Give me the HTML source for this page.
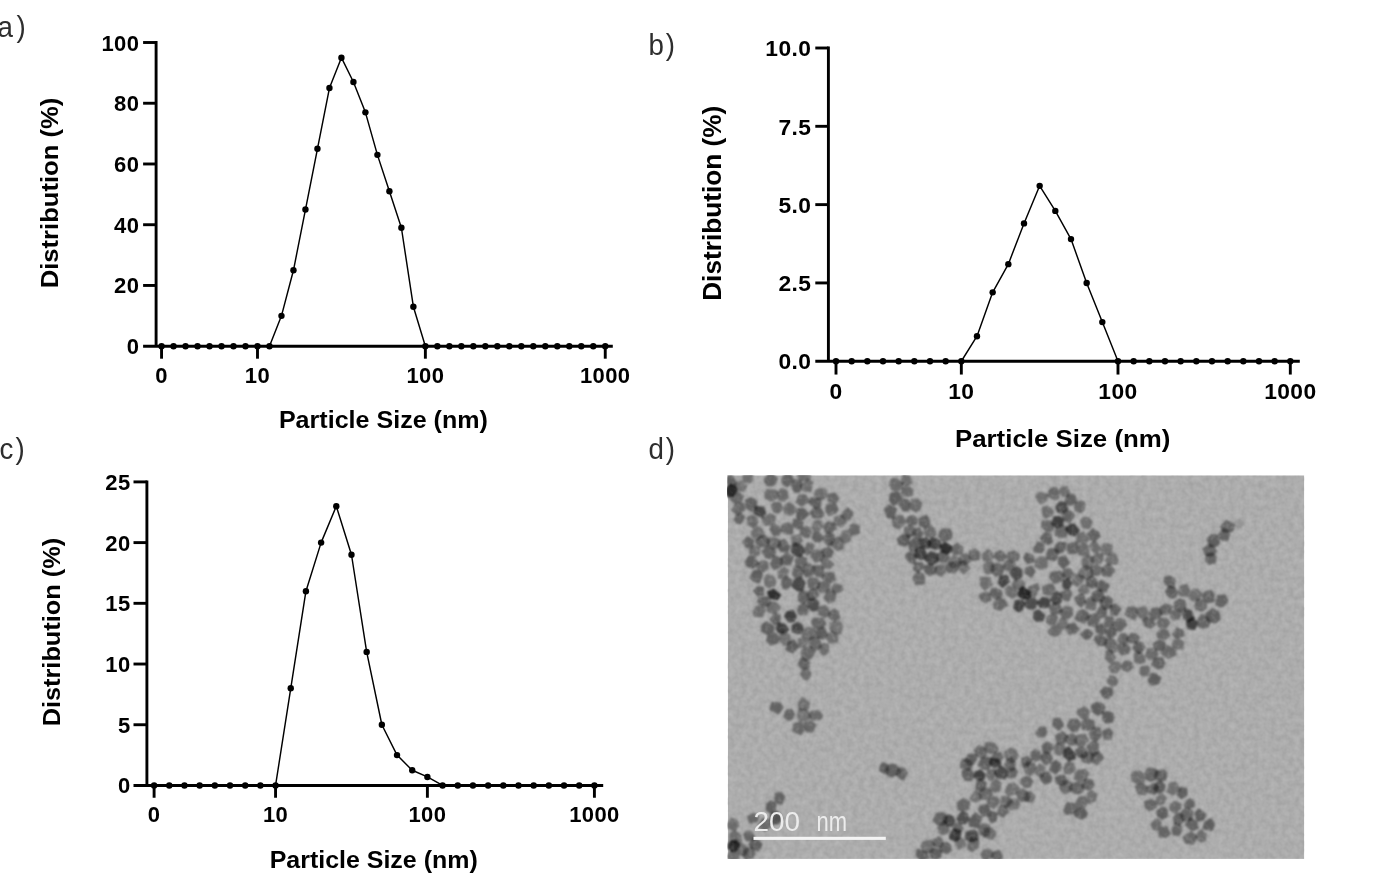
<!DOCTYPE html>
<html><head><meta charset="utf-8"><title>Figure</title>
<style>html,body{margin:0;padding:0;background:#fff}body{width:1385px;height:896px;overflow:hidden}svg{display:block;will-change:transform}</style>
</head><body>
<svg width="1385" height="896" viewBox="0 0 1385 896">
<rect width="1385" height="896" fill="#fff"/>
<path d="M156.10 41.05V346.20" stroke="#000" stroke-width="2.9" fill="none"/>
<path d="M143.10 346.20H612.80" stroke="#000" stroke-width="2.9" fill="none"/>
<text x="139.30" y="354.20" text-anchor="end" letter-spacing="0.4" font-family="Liberation Sans, sans-serif" font-weight="bold" font-size="22">0</text>
<path d="M143.10 285.46H156.10" stroke="#000" stroke-width="2.9"/>
<text x="139.30" y="293.46" text-anchor="end" letter-spacing="0.4" font-family="Liberation Sans, sans-serif" font-weight="bold" font-size="22">20</text>
<path d="M143.10 224.72H156.10" stroke="#000" stroke-width="2.9"/>
<text x="139.30" y="232.72" text-anchor="end" letter-spacing="0.4" font-family="Liberation Sans, sans-serif" font-weight="bold" font-size="22">40</text>
<path d="M143.10 163.98H156.10" stroke="#000" stroke-width="2.9"/>
<text x="139.30" y="171.98" text-anchor="end" letter-spacing="0.4" font-family="Liberation Sans, sans-serif" font-weight="bold" font-size="22">60</text>
<path d="M143.10 103.24H156.10" stroke="#000" stroke-width="2.9"/>
<text x="139.30" y="111.24" text-anchor="end" letter-spacing="0.4" font-family="Liberation Sans, sans-serif" font-weight="bold" font-size="22">80</text>
<path d="M143.10 42.50H156.10" stroke="#000" stroke-width="2.9"/>
<text x="139.30" y="50.50" text-anchor="end" letter-spacing="0.4" font-family="Liberation Sans, sans-serif" font-weight="bold" font-size="22">100</text>
<path d="M161.55 346.20V358.70" stroke="#000" stroke-width="2.9"/>
<text x="161.55" y="382.60" text-anchor="middle" letter-spacing="0.4" font-family="Liberation Sans, sans-serif" font-weight="bold" font-size="22">0</text>
<path d="M257.49 346.20V358.70" stroke="#000" stroke-width="2.9"/>
<text x="257.49" y="382.60" text-anchor="middle" letter-spacing="0.4" font-family="Liberation Sans, sans-serif" font-weight="bold" font-size="22">10</text>
<path d="M425.37 346.20V358.70" stroke="#000" stroke-width="2.9"/>
<text x="425.37" y="382.60" text-anchor="middle" letter-spacing="0.4" font-family="Liberation Sans, sans-serif" font-weight="bold" font-size="22">100</text>
<path d="M605.25 346.20V358.70" stroke="#000" stroke-width="2.9"/>
<text x="605.25" y="382.60" text-anchor="middle" letter-spacing="0.4" font-family="Liberation Sans, sans-serif" font-weight="bold" font-size="22">1000</text>
<text x="383.40" y="428.40" text-anchor="middle" textLength="209" lengthAdjust="spacingAndGlyphs" font-family="Liberation Sans, sans-serif" font-weight="bold" font-size="23.5">Particle Size (nm)</text>
<text transform="translate(57.90 193.00) rotate(-90)" text-anchor="middle" textLength="190.5" lengthAdjust="spacingAndGlyphs" font-family="Liberation Sans, sans-serif" font-weight="bold" font-size="24">Distribution (%)</text>
<polyline fill="none" stroke="#000" stroke-width="1.45" stroke-linejoin="round" points="161.55,346.20 173.54,346.20 185.53,346.20 197.53,346.20 209.52,346.20 221.51,346.20 233.50,346.20 245.49,346.20 257.49,346.20 269.48,346.20 281.47,315.83 293.46,270.27 305.45,209.53 317.45,148.79 329.44,88.06 341.43,57.69 353.42,81.98 365.41,112.35 377.41,154.87 389.40,191.31 401.39,227.76 413.38,306.72 425.37,346.20 437.37,346.20 449.36,346.20 461.35,346.20 473.34,346.20 485.33,346.20 497.33,346.20 509.32,346.20 521.31,346.20 533.30,346.20 545.29,346.20 557.29,346.20 569.28,346.20 581.27,346.20 593.26,346.20 605.25,346.20"/>
<circle cx="161.55" cy="346.20" r="3.2"/>
<circle cx="173.54" cy="346.20" r="3.2"/>
<circle cx="185.53" cy="346.20" r="3.2"/>
<circle cx="197.53" cy="346.20" r="3.2"/>
<circle cx="209.52" cy="346.20" r="3.2"/>
<circle cx="221.51" cy="346.20" r="3.2"/>
<circle cx="233.50" cy="346.20" r="3.2"/>
<circle cx="245.49" cy="346.20" r="3.2"/>
<circle cx="257.49" cy="346.20" r="3.2"/>
<circle cx="269.48" cy="346.20" r="3.2"/>
<circle cx="281.47" cy="315.83" r="3.2"/>
<circle cx="293.46" cy="270.27" r="3.2"/>
<circle cx="305.45" cy="209.53" r="3.2"/>
<circle cx="317.45" cy="148.79" r="3.2"/>
<circle cx="329.44" cy="88.06" r="3.2"/>
<circle cx="341.43" cy="57.69" r="3.2"/>
<circle cx="353.42" cy="81.98" r="3.2"/>
<circle cx="365.41" cy="112.35" r="3.2"/>
<circle cx="377.41" cy="154.87" r="3.2"/>
<circle cx="389.40" cy="191.31" r="3.2"/>
<circle cx="401.39" cy="227.76" r="3.2"/>
<circle cx="413.38" cy="306.72" r="3.2"/>
<circle cx="425.37" cy="346.20" r="3.2"/>
<circle cx="437.37" cy="346.20" r="3.2"/>
<circle cx="449.36" cy="346.20" r="3.2"/>
<circle cx="461.35" cy="346.20" r="3.2"/>
<circle cx="473.34" cy="346.20" r="3.2"/>
<circle cx="485.33" cy="346.20" r="3.2"/>
<circle cx="497.33" cy="346.20" r="3.2"/>
<circle cx="509.32" cy="346.20" r="3.2"/>
<circle cx="521.31" cy="346.20" r="3.2"/>
<circle cx="533.30" cy="346.20" r="3.2"/>
<circle cx="545.29" cy="346.20" r="3.2"/>
<circle cx="557.29" cy="346.20" r="3.2"/>
<circle cx="569.28" cy="346.20" r="3.2"/>
<circle cx="581.27" cy="346.20" r="3.2"/>
<circle cx="593.26" cy="346.20" r="3.2"/>
<circle cx="605.25" cy="346.20" r="3.2"/>
<path d="M828.40 46.55V361.25" stroke="#000" stroke-width="2.9" fill="none"/>
<path d="M815.30 361.25H1299.80" stroke="#000" stroke-width="2.9" fill="none"/>
<text x="811.30" y="369.45" text-anchor="end" letter-spacing="0.4" font-family="Liberation Sans, sans-serif" font-weight="bold" font-size="22.8">0.0</text>
<path d="M815.30 282.94H828.40" stroke="#000" stroke-width="2.9"/>
<text x="811.30" y="291.14" text-anchor="end" letter-spacing="0.4" font-family="Liberation Sans, sans-serif" font-weight="bold" font-size="22.8">2.5</text>
<path d="M815.30 204.62H828.40" stroke="#000" stroke-width="2.9"/>
<text x="811.30" y="212.82" text-anchor="end" letter-spacing="0.4" font-family="Liberation Sans, sans-serif" font-weight="bold" font-size="22.8">5.0</text>
<path d="M815.30 126.31H828.40" stroke="#000" stroke-width="2.9"/>
<text x="811.30" y="134.51" text-anchor="end" letter-spacing="0.4" font-family="Liberation Sans, sans-serif" font-weight="bold" font-size="22.8">7.5</text>
<path d="M815.30 48.00H828.40" stroke="#000" stroke-width="2.9"/>
<text x="811.30" y="56.20" text-anchor="end" letter-spacing="0.4" font-family="Liberation Sans, sans-serif" font-weight="bold" font-size="22.8">10.0</text>
<path d="M836.00 361.25V374.55" stroke="#000" stroke-width="2.9"/>
<text x="836.00" y="399.30" text-anchor="middle" letter-spacing="0.4" font-family="Liberation Sans, sans-serif" font-weight="bold" font-size="22.8">0</text>
<path d="M961.33 361.25V374.55" stroke="#000" stroke-width="2.9"/>
<text x="961.33" y="399.30" text-anchor="middle" letter-spacing="0.4" font-family="Liberation Sans, sans-serif" font-weight="bold" font-size="22.8">10</text>
<path d="M1117.99 361.25V374.55" stroke="#000" stroke-width="2.9"/>
<text x="1117.99" y="399.30" text-anchor="middle" letter-spacing="0.4" font-family="Liberation Sans, sans-serif" font-weight="bold" font-size="22.8">100</text>
<path d="M1290.31 361.25V374.55" stroke="#000" stroke-width="2.9"/>
<text x="1290.31" y="399.30" text-anchor="middle" letter-spacing="0.4" font-family="Liberation Sans, sans-serif" font-weight="bold" font-size="22.8">1000</text>
<text x="1062.70" y="447.40" text-anchor="middle" textLength="215.5" lengthAdjust="spacingAndGlyphs" font-family="Liberation Sans, sans-serif" font-weight="bold" font-size="24.8">Particle Size (nm)</text>
<text transform="translate(720.60 203.30) rotate(-90)" text-anchor="middle" textLength="195" lengthAdjust="spacingAndGlyphs" font-family="Liberation Sans, sans-serif" font-weight="bold" font-size="25">Distribution (%)</text>
<polyline fill="none" stroke="#000" stroke-width="1.45" stroke-linejoin="round" points="836.00,361.25 851.67,361.25 867.33,361.25 883.00,361.25 898.66,361.25 914.33,361.25 930.00,361.25 945.66,361.25 961.33,361.25 976.99,336.19 992.66,292.33 1008.33,264.14 1023.99,223.42 1039.66,185.83 1055.32,210.89 1070.99,239.08 1086.66,282.94 1102.32,322.09 1117.99,361.25 1133.65,361.25 1149.32,361.25 1164.99,361.25 1180.65,361.25 1196.32,361.25 1211.98,361.25 1227.65,361.25 1243.32,361.25 1258.98,361.25 1274.65,361.25 1290.31,361.25"/>
<circle cx="836.00" cy="361.25" r="3.2"/>
<circle cx="851.67" cy="361.25" r="3.2"/>
<circle cx="867.33" cy="361.25" r="3.2"/>
<circle cx="883.00" cy="361.25" r="3.2"/>
<circle cx="898.66" cy="361.25" r="3.2"/>
<circle cx="914.33" cy="361.25" r="3.2"/>
<circle cx="930.00" cy="361.25" r="3.2"/>
<circle cx="945.66" cy="361.25" r="3.2"/>
<circle cx="961.33" cy="361.25" r="3.2"/>
<circle cx="976.99" cy="336.19" r="3.2"/>
<circle cx="992.66" cy="292.33" r="3.2"/>
<circle cx="1008.33" cy="264.14" r="3.2"/>
<circle cx="1023.99" cy="223.42" r="3.2"/>
<circle cx="1039.66" cy="185.83" r="3.2"/>
<circle cx="1055.32" cy="210.89" r="3.2"/>
<circle cx="1070.99" cy="239.08" r="3.2"/>
<circle cx="1086.66" cy="282.94" r="3.2"/>
<circle cx="1102.32" cy="322.09" r="3.2"/>
<circle cx="1117.99" cy="361.25" r="3.2"/>
<circle cx="1133.65" cy="361.25" r="3.2"/>
<circle cx="1149.32" cy="361.25" r="3.2"/>
<circle cx="1164.99" cy="361.25" r="3.2"/>
<circle cx="1180.65" cy="361.25" r="3.2"/>
<circle cx="1196.32" cy="361.25" r="3.2"/>
<circle cx="1211.98" cy="361.25" r="3.2"/>
<circle cx="1227.65" cy="361.25" r="3.2"/>
<circle cx="1243.32" cy="361.25" r="3.2"/>
<circle cx="1258.98" cy="361.25" r="3.2"/>
<circle cx="1274.65" cy="361.25" r="3.2"/>
<circle cx="1290.31" cy="361.25" r="3.2"/>
<path d="M146.90 480.45V785.45" stroke="#000" stroke-width="2.9" fill="none"/>
<path d="M133.50 785.45H603.20" stroke="#000" stroke-width="2.9" fill="none"/>
<text x="130.60" y="793.45" text-anchor="end" letter-spacing="0.4" font-family="Liberation Sans, sans-serif" font-weight="bold" font-size="22">0</text>
<path d="M133.50 724.74H146.90" stroke="#000" stroke-width="2.9"/>
<text x="130.60" y="732.74" text-anchor="end" letter-spacing="0.4" font-family="Liberation Sans, sans-serif" font-weight="bold" font-size="22">5</text>
<path d="M133.50 664.03H146.90" stroke="#000" stroke-width="2.9"/>
<text x="130.60" y="672.03" text-anchor="end" letter-spacing="0.4" font-family="Liberation Sans, sans-serif" font-weight="bold" font-size="22">10</text>
<path d="M133.50 603.32H146.90" stroke="#000" stroke-width="2.9"/>
<text x="130.60" y="611.32" text-anchor="end" letter-spacing="0.4" font-family="Liberation Sans, sans-serif" font-weight="bold" font-size="22">15</text>
<path d="M133.50 542.61H146.90" stroke="#000" stroke-width="2.9"/>
<text x="130.60" y="550.61" text-anchor="end" letter-spacing="0.4" font-family="Liberation Sans, sans-serif" font-weight="bold" font-size="22">20</text>
<path d="M133.50 481.90H146.90" stroke="#000" stroke-width="2.9"/>
<text x="130.60" y="489.90" text-anchor="end" letter-spacing="0.4" font-family="Liberation Sans, sans-serif" font-weight="bold" font-size="22">25</text>
<path d="M154.10 785.45V797.75" stroke="#000" stroke-width="2.9"/>
<text x="154.10" y="821.70" text-anchor="middle" letter-spacing="0.4" font-family="Liberation Sans, sans-serif" font-weight="bold" font-size="22">0</text>
<path d="M275.56 785.45V797.75" stroke="#000" stroke-width="2.9"/>
<text x="275.56" y="821.70" text-anchor="middle" letter-spacing="0.4" font-family="Liberation Sans, sans-serif" font-weight="bold" font-size="22">10</text>
<path d="M427.39 785.45V797.75" stroke="#000" stroke-width="2.9"/>
<text x="427.39" y="821.70" text-anchor="middle" letter-spacing="0.4" font-family="Liberation Sans, sans-serif" font-weight="bold" font-size="22">100</text>
<path d="M594.41 785.45V797.75" stroke="#000" stroke-width="2.9"/>
<text x="594.41" y="821.70" text-anchor="middle" letter-spacing="0.4" font-family="Liberation Sans, sans-serif" font-weight="bold" font-size="22">1000</text>
<text x="373.70" y="868.10" text-anchor="middle" textLength="208" lengthAdjust="spacingAndGlyphs" font-family="Liberation Sans, sans-serif" font-weight="bold" font-size="24.0">Particle Size (nm)</text>
<text transform="translate(60.00 632.10) rotate(-90)" text-anchor="middle" textLength="188.5" lengthAdjust="spacingAndGlyphs" font-family="Liberation Sans, sans-serif" font-weight="bold" font-size="24">Distribution (%)</text>
<polyline fill="none" stroke="#000" stroke-width="1.45" stroke-linejoin="round" points="154.10,785.45 169.28,785.45 184.47,785.45 199.65,785.45 214.83,785.45 230.01,785.45 245.20,785.45 260.38,785.45 275.56,785.45 290.75,688.31 305.93,591.18 321.11,542.61 336.30,506.18 351.48,554.75 366.66,651.89 381.85,724.74 397.03,755.10 412.21,770.27 427.39,776.95 442.58,785.45 457.76,785.45 472.94,785.45 488.13,785.45 503.31,785.45 518.49,785.45 533.67,785.45 548.86,785.45 564.04,785.45 579.22,785.45 594.41,785.45"/>
<circle cx="154.10" cy="785.45" r="3.2"/>
<circle cx="169.28" cy="785.45" r="3.2"/>
<circle cx="184.47" cy="785.45" r="3.2"/>
<circle cx="199.65" cy="785.45" r="3.2"/>
<circle cx="214.83" cy="785.45" r="3.2"/>
<circle cx="230.01" cy="785.45" r="3.2"/>
<circle cx="245.20" cy="785.45" r="3.2"/>
<circle cx="260.38" cy="785.45" r="3.2"/>
<circle cx="275.56" cy="785.45" r="3.2"/>
<circle cx="290.75" cy="688.31" r="3.2"/>
<circle cx="305.93" cy="591.18" r="3.2"/>
<circle cx="321.11" cy="542.61" r="3.2"/>
<circle cx="336.30" cy="506.18" r="3.2"/>
<circle cx="351.48" cy="554.75" r="3.2"/>
<circle cx="366.66" cy="651.89" r="3.2"/>
<circle cx="381.85" cy="724.74" r="3.2"/>
<circle cx="397.03" cy="755.10" r="3.2"/>
<circle cx="412.21" cy="770.27" r="3.2"/>
<circle cx="427.39" cy="776.95" r="3.2"/>
<circle cx="442.58" cy="785.45" r="3.2"/>
<circle cx="457.76" cy="785.45" r="3.2"/>
<circle cx="472.94" cy="785.45" r="3.2"/>
<circle cx="488.13" cy="785.45" r="3.2"/>
<circle cx="503.31" cy="785.45" r="3.2"/>
<circle cx="518.49" cy="785.45" r="3.2"/>
<circle cx="533.67" cy="785.45" r="3.2"/>
<circle cx="548.86" cy="785.45" r="3.2"/>
<circle cx="564.04" cy="785.45" r="3.2"/>
<circle cx="579.22" cy="785.45" r="3.2"/>
<circle cx="594.41" cy="785.45" r="3.2"/>
<text transform="translate(-2.4 36.8) scale(0.94 1)" font-family="Liberation Sans, sans-serif" font-size="29.5" fill="#2e2e2e">a<tspan dx="3.6">)</tspan></text>
<text transform="translate(648.5 54.6) scale(0.94 1)" font-family="Liberation Sans, sans-serif" font-size="29.5" fill="#2e2e2e">b<tspan dx="2.0">)</tspan></text>
<text transform="translate(-0.6 458.6) scale(0.94 1)" font-family="Liberation Sans, sans-serif" font-size="29.5" fill="#2e2e2e">c<tspan dx="2.4">)</tspan></text>
<text transform="translate(648.4 458.9) scale(0.94 1)" font-family="Liberation Sans, sans-serif" font-size="29.5" fill="#2e2e2e">d<tspan dx="2.0">)</tspan></text>
<defs>
<clipPath id="temclip"><rect x="727.8" y="475.3" width="576.5" height="383.6"/></clipPath>
<filter id="pblur" x="-5%" y="-5%" width="110%" height="110%"><feGaussianBlur stdDeviation="0.85"/></filter>
<filter id="tblur"><feGaussianBlur stdDeviation="0.55"/></filter>
<filter id="grain" x="0" y="0" width="100%" height="100%" color-interpolation-filters="sRGB"><feTurbulence type="fractalNoise" baseFrequency="0.17" numOctaves="2" seed="3" result="n"/><feColorMatrix in="n" type="matrix" values="0 0 0 0 1  0 0 0 0 1  0 0 0 0 1  0.30 0 0 0 -0.15" result="w"/><feColorMatrix in="n" type="matrix" values="0 0 0 0 0  0 0 0 0 0  0 0 0 0 0  -0.16 0 0 0 0.08" result="k"/><feMerge><feMergeNode in="w"/><feMergeNode in="k"/></feMerge></filter>
</defs>
<g clip-path="url(#temclip)">
<rect x="727.8" y="475.3" width="576.5" height="383.6" fill="#adadad"/>
<g filter="url(#pblur)" fill="#000" stroke="#000" stroke-width="2.2" stroke-linejoin="round">
<path d="M896.5 479.3L903.1 483.6L902.0 487.2L897.7 490.5L892.6 489.9L889.8 484.5L892.1 479.0Z" opacity="0.36"/>
<path d="M901.9 478.8L903.9 474.7L908.6 476.3L910.9 480.0L911.2 483.2L906.0 485.5L902.0 483.0Z" opacity="0.34"/>
<path d="M911.9 494.6L906.1 496.2L901.6 493.4L902.3 488.8L908.1 486.2L912.2 490.0Z" opacity="0.36"/>
<path d="M890.1 500.0L890.7 494.3L893.3 492.6L898.1 492.9L902.1 497.3L898.1 502.8L893.2 504.8Z" opacity="0.44"/>
<path d="M899.7 505.2L903.3 499.2L907.2 500.2L909.6 503.7L907.8 510.6L903.4 510.3Z" opacity="0.41"/>
<path d="M895.9 508.8L894.2 517.1L887.9 517.7L885.0 509.4L888.9 505.5Z" opacity="0.42"/>
<path d="M910.0 505.0L912.1 499.8L918.0 499.6L921.3 503.5L919.7 509.6L915.6 511.4L910.5 508.2Z" opacity="0.36"/>
<path d="M905.2 522.5L899.5 528.1L893.8 526.2L892.8 518.8L898.2 516.2L902.5 516.6Z" opacity="0.37"/>
<path d="M908.6 517.2L913.2 515.8L916.8 519.4L916.2 523.8L910.0 525.3L906.8 520.6Z" opacity="0.40"/>
<path d="M920.0 524.9L919.3 519.7L921.3 517.7L926.5 516.0L928.9 519.5L928.9 523.5L924.5 526.8Z" opacity="0.43"/>
<path d="M914.7 533.2L910.7 536.2L908.1 537.0L904.9 532.2L905.4 527.3L909.6 526.3L913.4 528.0Z" opacity="0.38"/>
<path d="M903.3 535.0L908.9 535.9L909.2 542.5L905.0 545.6L899.5 543.8L898.1 538.9Z" opacity="0.44"/>
<path d="M912.7 534.5L915.4 529.5L919.4 528.3L922.4 533.3L919.8 539.2L917.0 538.5Z" opacity="0.42"/>
<path d="M930.1 525.6L933.7 528.5L935.6 534.5L931.4 537.3L925.3 535.1L924.7 528.2Z" opacity="0.36"/>
<path d="M943.4 541.3L939.3 536.9L940.4 532.3L942.3 529.4L949.8 529.8L951.5 534.4L950.5 538.8Z" opacity="0.41"/>
<path d="M913.2 539.1L916.6 540.0L918.9 547.3L915.8 550.3L910.7 550.2L909.4 545.2Z" opacity="0.43"/>
<path d="M926.1 538.2L930.3 542.7L928.2 547.8L921.4 546.8L919.2 540.4Z" opacity="0.60"/>
<path d="M939.7 541.7L940.2 547.4L935.4 548.6L930.3 546.9L928.4 542.7L931.9 538.6L936.2 539.2Z" opacity="0.59"/>
<path d="M941.1 545.7L945.3 543.1L950.8 546.7L950.7 551.1L947.9 553.4L941.9 551.5Z" opacity="0.70"/>
<path d="M957.2 543.9L962.4 547.9L961.7 553.3L954.1 554.0L951.5 547.7Z" opacity="0.38"/>
<path d="M915.9 556.5L914.2 562.8L909.3 561.8L905.9 556.4L907.5 553.7L911.7 552.3Z" opacity="0.42"/>
<path d="M923.2 548.1L926.1 554.6L924.7 557.7L920.3 558.9L915.4 556.2L915.5 552.0L917.5 548.4Z" opacity="0.61"/>
<path d="M925.1 558.9L930.5 552.2L937.6 554.2L938.0 561.0L930.8 564.7Z" opacity="0.59"/>
<path d="M949.0 557.6L945.3 562.6L941.3 562.2L937.4 558.7L940.4 552.2L945.0 552.6Z" opacity="0.41"/>
<path d="M959.5 562.7L956.3 568.2L950.4 565.8L949.1 561.6L953.8 555.9L958.7 558.9Z" opacity="0.33"/>
<path d="M966.1 554.4L970.4 558.7L969.6 561.8L964.6 564.2L960.7 564.1L959.9 558.3L962.9 555.1Z" opacity="0.36"/>
<path d="M959.5 561.3L964.3 561.2L969.2 568.1L963.6 573.3L958.9 568.5Z" opacity="0.34"/>
<path d="M979.2 553.5L979.0 559.1L972.8 560.0L969.1 556.9L970.2 551.3L975.4 549.6Z" opacity="0.38"/>
<path d="M988.3 550.2L991.9 553.2L992.8 558.0L986.4 560.7L983.4 559.7L982.7 554.4Z" opacity="0.34"/>
<path d="M999.3 560.9L994.5 556.4L996.1 553.3L1000.7 550.9L1006.4 556.2L1003.4 560.3Z" opacity="0.39"/>
<path d="M1008.1 559.3L1008.4 553.1L1014.4 551.4L1018.9 555.0L1018.0 559.4L1013.1 561.1Z" opacity="0.38"/>
<path d="M917.8 571.4L913.7 569.5L915.4 563.1L922.0 563.0L923.9 567.4Z" opacity="0.40"/>
<path d="M925.5 566.1L931.8 564.6L935.9 568.1L934.0 573.5L929.7 574.8L925.1 571.8Z" opacity="0.43"/>
<path d="M941.0 575.7L935.9 572.5L936.6 566.1L943.9 565.4L945.9 571.0Z" opacity="0.36"/>
<path d="M955.1 562.4L958.3 567.0L955.0 572.3L948.6 572.1L946.1 566.4L948.2 563.8Z" opacity="0.39"/>
<path d="M924.0 575.3L923.8 583.3L915.8 583.9L913.4 577.4L918.8 571.6Z" opacity="0.38"/>
<path d="M988.5 573.8L984.3 571.6L984.5 563.9L990.2 561.1L993.2 564.1L994.0 569.5Z" opacity="0.34"/>
<path d="M991.5 571.7L992.0 565.5L997.8 563.8L1003.7 566.7L1001.7 573.9L996.5 576.0Z" opacity="0.40"/>
<path d="M803.4 669.7L806.0 668.5L810.2 672.7L810.3 674.7L807.4 679.4L804.2 678.4L800.8 674.2Z" opacity="0.35"/>
<path d="M782.5 707.3L778.3 713.1L770.4 709.2L772.2 702.8L779.8 703.6Z" opacity="0.41"/>
<path d="M784.2 716.4L786.5 710.8L791.4 709.6L794.1 714.9L791.1 719.2L788.7 720.0Z" opacity="0.40"/>
<path d="M799.4 708.9L798.8 703.5L802.0 698.1L804.7 699.6L808.9 702.4L808.0 707.9L802.7 710.0Z" opacity="0.35"/>
<path d="M806.2 709.6L810.3 716.8L807.2 719.7L800.3 720.7L797.8 715.7L799.6 709.5Z" opacity="0.33"/>
<path d="M812.2 719.7L809.1 716.1L811.6 711.5L818.8 711.4L821.9 715.7L820.4 718.9Z" opacity="0.36"/>
<path d="M812.4 731.3L806.7 731.2L804.3 722.9L809.7 721.5L815.3 724.7Z" opacity="0.38"/>
<path d="M793.2 730.7L794.5 724.0L800.6 722.3L804.7 728.8L800.6 734.1Z" opacity="0.38"/>
<path d="M880.2 770.6L880.7 765.4L883.4 763.2L887.5 765.4L887.9 772.8L884.6 773.0Z" opacity="0.42"/>
<path d="M891.7 776.5L888.6 775.7L886.0 770.1L889.7 764.9L894.9 764.9L899.9 771.5L898.1 773.9Z" opacity="0.42"/>
<path d="M903.3 779.7L900.0 777.9L896.9 774.4L899.0 768.3L903.7 768.8L906.7 773.0Z" opacity="0.40"/>
<path d="M777.9 803.0L775.2 800.0L776.0 793.5L781.5 793.4L784.0 797.0L781.6 803.6Z" opacity="0.41"/>
<path d="M775.4 803.6L775.0 809.8L770.6 813.0L766.6 809.6L767.5 804.3L770.7 801.3Z" opacity="0.44"/>
<path d="M748.0 816.7L753.9 813.7L758.0 815.9L756.9 821.0L750.4 822.7Z" opacity="0.39"/>
<path d="M772.1 823.6L770.6 819.3L771.2 814.2L776.8 812.0L780.3 815.4L781.4 819.2L777.7 823.2Z" opacity="0.53"/>
<path d="M770.6 825.6L764.5 830.6L758.4 826.2L763.0 818.9L768.0 820.0Z" opacity="0.39"/>
<path d="M728.5 827.8L728.3 824.3L731.5 818.8L736.6 820.7L738.2 825.6L734.7 830.3Z" opacity="0.36"/>
<path d="M754.1 837.1L752.8 839.7L746.4 840.2L744.2 834.6L745.9 832.1L751.4 831.9Z" opacity="0.40"/>
<path d="M730.2 841.1L730.5 833.5L735.2 831.5L740.3 835.7L740.6 842.6L734.8 843.3Z" opacity="0.36"/>
<path d="M758.1 840.9L761.5 844.6L758.6 850.5L753.8 849.4L749.5 844.6L753.9 838.7Z" opacity="0.44"/>
<path d="M732.2 851.5L728.7 847.8L729.0 844.2L731.9 841.2L736.2 841.1L738.9 844.7L736.4 850.2Z" opacity="0.73"/>
<path d="M744.6 855.2L740.3 854.5L737.6 848.9L739.0 844.8L741.6 844.4L746.7 847.2L747.8 851.0Z" opacity="0.34"/>
<path d="M743.3 855.0L744.9 849.9L751.5 847.5L754.4 853.6L752.4 857.4L746.2 859.4Z" opacity="0.39"/>
<path d="M738.2 859.2L734.3 862.3L730.0 860.1L728.1 856.2L731.8 850.1L737.7 853.1Z" opacity="0.36"/>
<path d="M1233.8 524.9L1232.5 531.1L1223.6 531.5L1220.9 526.8L1226.5 521.0Z" opacity="0.40"/>
<path d="M1223.6 529.3L1227.9 531.2L1229.0 534.5L1227.4 539.9L1222.5 539.6L1219.3 537.8L1219.4 534.2Z" opacity="0.40"/>
<path d="M1216.7 535.3L1219.2 542.8L1215.7 545.8L1210.4 546.6L1207.5 539.4L1210.7 535.5Z" opacity="0.44"/>
<path d="M1212.7 554.7L1208.5 556.4L1205.2 553.6L1203.5 548.6L1209.9 544.7L1212.7 546.3L1216.0 551.6Z" opacity="0.39"/>
<path d="M1206.1 560.3L1207.0 554.9L1212.0 553.4L1215.6 556.6L1214.9 562.3L1208.7 563.6Z" opacity="0.40"/>
<path d="M1139.4 771.6L1143.0 774.1L1143.6 781.5L1138.3 783.7L1133.0 781.3L1131.5 775.1L1133.9 771.9Z" opacity="0.35"/>
<path d="M1155.0 769.3L1157.4 772.4L1154.4 779.4L1150.4 781.1L1145.7 778.4L1145.7 772.5L1148.6 768.5Z" opacity="0.40"/>
<path d="M1156.1 778.5L1155.5 776.1L1156.5 771.6L1163.6 770.3L1166.6 774.1L1165.0 779.4L1160.9 780.6Z" opacity="0.43"/>
<path d="M1138.5 793.4L1135.9 786.4L1142.6 783.6L1147.2 788.4L1145.0 794.1Z" opacity="0.38"/>
<path d="M1148.0 792.0L1147.4 787.3L1154.6 783.7L1158.2 787.0L1155.2 793.6Z" opacity="0.42"/>
<path d="M1163.3 790.4L1159.0 792.9L1154.2 789.0L1157.3 782.3L1160.4 781.2L1164.8 786.0Z" opacity="0.44"/>
<path d="M1179.8 789.7L1172.9 794.4L1167.2 792.0L1170.0 783.7L1175.8 782.7Z" opacity="0.33"/>
<path d="M1186.2 789.0L1186.4 794.9L1181.2 798.1L1177.8 794.6L1180.7 787.8Z" opacity="0.43"/>
<path d="M1157.6 797.1L1161.6 794.3L1165.7 797.5L1163.4 803.7L1158.9 804.3L1156.4 801.8Z" opacity="0.34"/>
<path d="M1151.8 800.0L1156.3 803.3L1155.6 807.3L1149.2 810.2L1146.1 807.6L1145.1 801.8Z" opacity="0.40"/>
<path d="M1174.9 802.0L1180.4 804.3L1180.1 808.5L1175.2 812.3L1170.1 809.0L1170.9 804.9Z" opacity="0.37"/>
<path d="M1188.9 808.7L1184.7 805.2L1189.2 799.2L1193.3 801.1L1194.1 806.1Z" opacity="0.40"/>
<path d="M1162.4 818.6L1157.8 815.6L1157.2 811.6L1162.1 807.5L1166.0 809.0L1167.6 815.9Z" opacity="0.44"/>
<path d="M1178.8 824.7L1174.7 823.2L1174.0 818.0L1177.1 813.5L1181.9 814.7L1184.3 819.7Z" opacity="0.41"/>
<path d="M1198.9 809.4L1205.5 815.0L1203.0 819.5L1197.7 820.7L1195.0 814.2Z" opacity="0.44"/>
<path d="M1156.1 819.3L1160.0 820.8L1161.1 825.4L1156.6 829.6L1153.2 828.6L1151.8 823.6Z" opacity="0.36"/>
<path d="M1169.6 833.8L1165.8 836.9L1159.7 836.8L1159.4 828.9L1166.2 826.7Z" opacity="0.40"/>
<path d="M1175.4 824.1L1180.3 825.5L1181.2 831.3L1178.2 835.0L1172.9 834.5L1172.5 829.4Z" opacity="0.40"/>
<path d="M1198.0 827.5L1192.2 830.6L1185.9 824.5L1190.0 818.4L1196.3 822.1Z" opacity="0.41"/>
<path d="M1205.1 822.7L1210.8 819.1L1214.1 824.6L1211.5 830.0L1203.6 828.4Z" opacity="0.44"/>
<path d="M1191.1 832.6L1196.7 836.7L1193.1 843.7L1185.8 842.3L1183.8 836.9Z" opacity="0.39"/>
<path d="M1205.2 840.3L1200.4 841.5L1196.0 836.0L1201.2 830.3L1205.5 834.0Z" opacity="0.35"/>
<path d="M1192.5 811.6L1191.4 819.9L1182.9 820.7L1180.4 813.5L1185.9 808.0Z" opacity="0.38"/>
<path d="M1108.9 667.1L1113.3 662.4L1118.7 662.9L1121.3 666.2L1116.6 672.3L1112.0 671.9Z" opacity="0.34"/>
<path d="M1122.6 668.9L1123.1 663.5L1125.9 661.3L1131.0 662.8L1132.7 667.0L1127.7 671.0Z" opacity="0.38"/>
<path d="M1147.5 666.6L1149.5 668.5L1147.9 674.8L1142.7 675.4L1140.5 673.0L1140.7 667.3Z" opacity="0.36"/>
<path d="M1148.7 681.1L1151.4 673.9L1155.6 674.3L1160.1 678.2L1157.8 683.8L1151.0 684.3Z" opacity="0.43"/>
<path d="M1110.3 676.4L1114.7 677.0L1117.3 681.2L1116.4 684.3L1112.3 685.6L1108.2 682.2L1108.5 679.7Z" opacity="0.37"/>
<path d="M1108.7 698.0L1104.2 697.6L1100.9 691.4L1104.6 687.8L1111.7 688.7L1112.2 694.1Z" opacity="0.43"/>
<path d="M1104.3 707.6L1102.7 712.5L1097.7 714.6L1092.3 710.8L1092.0 705.4L1096.4 703.0L1102.7 704.4Z" opacity="0.43"/>
<path d="M1083.9 707.4L1089.0 710.9L1087.5 716.8L1084.0 719.3L1078.2 714.4L1077.8 710.8Z" opacity="0.36"/>
<path d="M1107.1 712.0L1112.2 713.6L1113.6 717.5L1112.0 721.6L1105.7 722.5L1103.4 719.9L1103.4 713.2Z" opacity="0.43"/>
<path d="M1059.4 718.9L1063.1 725.2L1058.8 729.8L1053.2 725.6L1054.1 719.2Z" opacity="0.41"/>
<path d="M1067.7 725.7L1070.7 720.1L1077.5 719.9L1080.2 724.6L1076.7 730.8L1072.0 731.1Z" opacity="0.40"/>
<path d="M1088.2 719.0L1093.4 721.6L1094.0 727.0L1089.2 729.6L1082.7 728.9L1082.7 721.7Z" opacity="0.40"/>
<path d="M1044.1 736.2L1037.6 736.1L1036.1 732.4L1040.5 727.6L1045.0 727.7L1046.5 732.6Z" opacity="0.39"/>
<path d="M1099.6 728.4L1100.8 735.2L1096.3 741.3L1091.5 738.3L1089.9 734.0L1093.9 728.1Z" opacity="0.42"/>
<path d="M1104.7 738.7L1103.3 731.8L1108.6 728.7L1112.1 732.1L1110.7 738.8Z" opacity="0.41"/>
<path d="M1067.2 736.3L1064.0 743.1L1058.2 744.0L1056.1 735.9L1062.2 731.9Z" opacity="0.40"/>
<path d="M1065.3 739.9L1066.2 736.8L1072.6 734.4L1075.4 736.2L1076.2 742.7L1074.2 744.4L1069.7 744.6Z" opacity="0.37"/>
<path d="M1074.7 740.5L1078.6 735.4L1084.8 734.8L1087.9 740.4L1082.4 746.7L1079.0 746.5Z" opacity="0.34"/>
<path d="M1047.3 753.6L1043.6 751.1L1042.8 745.5L1047.1 742.7L1051.6 744.7L1051.3 750.0Z" opacity="0.42"/>
<path d="M1097.8 744.0L1097.7 753.3L1092.4 754.7L1087.0 746.5L1093.2 741.7Z" opacity="0.39"/>
<path d="M1065.2 749.6L1068.7 747.5L1074.4 753.9L1074.8 757.9L1069.0 760.3L1064.0 755.7Z" opacity="0.62"/>
<path d="M1032.1 759.5L1031.5 752.9L1034.9 749.7L1039.2 751.9L1040.7 757.9L1036.0 760.8Z" opacity="0.40"/>
<path d="M1041.9 759.9L1041.8 755.9L1044.3 752.9L1049.1 753.5L1051.9 757.8L1050.1 762.5L1045.2 764.1Z" opacity="0.41"/>
<path d="M1085.0 749.5L1086.7 755.4L1084.8 758.0L1078.8 756.5L1076.9 754.2L1076.1 750.1L1081.7 747.9Z" opacity="0.43"/>
<path d="M1092.0 761.8L1092.6 754.8L1098.4 752.2L1103.3 757.2L1097.4 763.9Z" opacity="0.39"/>
<path d="M1022.3 758.9L1027.5 757.0L1030.8 760.7L1028.3 765.9L1022.9 765.6Z" opacity="0.43"/>
<path d="M1060.2 769.1L1055.4 773.1L1050.2 770.1L1052.0 764.0L1055.6 760.9L1060.7 764.6Z" opacity="0.43"/>
<path d="M1068.9 762.2L1073.1 764.0L1074.7 769.8L1070.4 773.1L1065.4 772.8L1064.2 768.4L1066.3 763.9Z" opacity="0.36"/>
<path d="M1040.1 776.7L1035.2 772.4L1035.9 769.1L1039.6 764.5L1044.8 768.1L1043.3 775.2Z" opacity="0.33"/>
<path d="M1041.5 774.6L1048.1 772.5L1051.2 778.0L1049.7 782.3L1044.6 783.6L1041.0 778.6Z" opacity="0.43"/>
<path d="M1085.1 779.5L1080.8 781.2L1074.9 778.7L1075.4 773.5L1078.6 770.8L1084.9 769.8L1088.2 773.4Z" opacity="0.36"/>
<path d="M1056.0 777.7L1060.8 775.8L1064.2 775.9L1066.7 781.2L1064.0 784.8L1056.9 783.1Z" opacity="0.43"/>
<path d="M1032.7 781.3L1029.3 786.7L1025.0 787.0L1021.4 783.2L1021.9 779.2L1025.5 777.1L1029.0 777.4Z" opacity="0.38"/>
<path d="M1072.4 783.7L1078.9 782.6L1083.0 786.2L1082.7 791.2L1078.4 793.5L1072.9 792.2L1070.0 788.0Z" opacity="0.40"/>
<path d="M1089.0 789.4L1082.9 787.2L1082.8 784.1L1085.5 779.4L1092.2 780.8L1093.5 785.7Z" opacity="0.41"/>
<path d="M1065.2 793.3L1061.0 790.0L1060.0 785.6L1062.7 782.6L1069.2 781.7L1071.5 784.2L1071.2 790.1Z" opacity="0.36"/>
<path d="M1094.7 800.7L1089.5 803.0L1087.8 799.8L1087.9 793.6L1090.9 790.8L1096.3 794.2Z" opacity="0.33"/>
<path d="M1018.4 797.4L1017.1 793.8L1021.9 789.4L1027.3 791.9L1028.9 796.6L1028.3 799.9L1021.3 801.0Z" opacity="0.36"/>
<path d="M1076.1 803.6L1079.5 797.7L1084.8 797.0L1087.0 802.2L1084.2 807.1L1078.0 807.9Z" opacity="0.37"/>
<path d="M1067.3 803.2L1073.9 803.9L1076.4 809.2L1074.1 813.0L1066.4 813.9L1064.2 811.2Z" opacity="0.39"/>
<path d="M1083.6 809.0L1086.7 813.3L1086.2 815.9L1081.9 818.4L1075.3 815.7L1074.9 812.7L1078.4 809.1Z" opacity="0.44"/>
<path d="M1007.5 805.2L1009.7 800.0L1017.2 799.5L1019.1 804.7L1016.9 808.4L1011.0 809.2Z" opacity="0.35"/>
<path d="M1016.8 792.9L1008.6 795.3L1005.8 792.1L1008.3 784.7L1014.4 783.5L1018.8 787.9Z" opacity="0.34"/>
<path d="M1010.0 769.6L1014.5 768.9L1016.9 771.6L1014.9 776.5L1010.4 777.7L1006.8 775.6Z" opacity="0.39"/>
<path d="M1009.6 761.6L1005.8 757.0L1004.8 752.5L1010.9 748.7L1015.3 750.7L1017.7 755.6L1014.1 761.6Z" opacity="0.34"/>
<path d="M1057.3 743.8L1064.0 745.6L1064.3 751.7L1059.5 754.7L1055.4 753.4L1053.9 747.8Z" opacity="0.35"/>
<path d="M1087.2 751.5L1093.5 755.6L1089.2 762.8L1082.9 761.4L1081.4 755.5Z" opacity="0.37"/>
<path d="M1035.1 767.9L1030.9 775.2L1026.1 772.7L1024.3 767.1L1026.8 762.5L1033.8 763.1Z" opacity="0.36"/>
<path d="M997.6 748.9L996.0 752.0L989.8 753.0L985.4 749.4L986.0 743.3L989.8 742.8L994.5 744.3Z" opacity="0.37"/>
<path d="M984.5 748.3L986.4 754.2L982.9 757.1L976.8 755.8L974.9 750.1L978.9 746.4Z" opacity="0.40"/>
<path d="M1002.7 757.9L997.6 761.9L991.6 758.1L995.1 753.0L1000.3 752.9Z" opacity="0.38"/>
<path d="M975.1 755.0L976.4 757.9L972.6 764.4L968.6 764.5L965.3 760.9L968.8 754.8Z" opacity="0.42"/>
<path d="M968.2 760.0L971.2 762.3L971.2 767.7L968.4 769.6L961.0 767.5L961.4 763.5L962.8 759.7Z" opacity="0.39"/>
<path d="M982.2 758.0L985.4 756.4L990.9 758.9L990.9 763.1L987.9 769.5L983.2 768.7L978.9 765.4Z" opacity="0.43"/>
<path d="M1007.1 760.1L1011.3 758.2L1014.5 762.7L1014.3 769.4L1010.5 770.3L1005.4 765.1Z" opacity="0.41"/>
<path d="M990.0 763.2L991.4 759.1L997.9 759.8L1000.1 762.6L999.8 766.4L993.4 766.5Z" opacity="0.62"/>
<path d="M966.0 780.0L963.3 776.5L962.7 771.3L969.6 769.1L972.5 772.5L973.4 777.2L970.4 780.1Z" opacity="0.42"/>
<path d="M975.6 772.4L980.5 770.4L984.5 774.7L983.2 779.3L978.7 780.5L974.7 776.3Z" opacity="0.61"/>
<path d="M987.0 775.1L988.2 771.2L994.7 769.3L995.9 772.3L993.3 779.1L990.0 780.2Z" opacity="0.36"/>
<path d="M1007.6 770.4L1005.0 778.1L997.0 777.4L995.0 772.0L1001.7 767.0Z" opacity="0.55"/>
<path d="M981.6 790.4L976.3 788.8L977.3 782.0L980.0 780.5L985.5 782.8L985.0 787.6Z" opacity="0.43"/>
<path d="M1000.7 783.0L999.6 790.2L994.9 792.0L990.6 789.3L991.7 783.4L995.9 779.9Z" opacity="0.35"/>
<path d="M1034.6 796.9L1031.8 801.6L1026.9 801.1L1023.8 798.2L1026.2 793.5L1030.5 792.1Z" opacity="0.35"/>
<path d="M972.1 795.3L976.2 791.1L980.3 795.0L980.3 799.1L975.1 801.7L970.7 799.4Z" opacity="0.33"/>
<path d="M979.2 793.0L982.3 789.4L989.5 788.8L991.9 794.8L988.1 799.1L981.1 798.4Z" opacity="0.37"/>
<path d="M992.8 797.0L996.5 797.9L999.4 800.7L997.2 804.4L993.3 808.0L989.3 804.9L987.6 801.8Z" opacity="0.36"/>
<path d="M1008.2 797.0L1011.9 801.8L1007.0 806.7L1001.4 805.6L1002.3 797.2Z" opacity="0.36"/>
<path d="M957.4 803.5L962.8 799.0L969.3 801.9L968.2 808.8L962.6 810.8L958.1 809.1Z" opacity="0.39"/>
<path d="M989.5 811.0L989.4 814.8L982.4 815.3L979.1 809.9L980.6 806.3L987.6 805.2Z" opacity="0.44"/>
<path d="M1003.1 816.5L998.5 814.0L999.4 807.0L1005.9 806.6L1007.9 811.7Z" opacity="0.38"/>
<path d="M995.5 820.5L991.5 822.2L988.6 817.1L990.6 811.6L996.8 813.7Z" opacity="0.42"/>
<path d="M933.8 820.3L936.8 813.9L942.5 813.1L946.6 815.6L945.6 821.1L943.4 824.3L937.3 824.0Z" opacity="0.40"/>
<path d="M951.5 825.8L947.3 825.0L943.8 821.6L945.1 817.3L949.6 815.4L952.5 816.9L954.2 820.7Z" opacity="0.54"/>
<path d="M960.9 823.6L957.4 819.1L960.0 814.4L962.8 812.2L966.7 813.7L968.2 818.8L965.3 823.0Z" opacity="0.52"/>
<path d="M977.9 827.2L970.0 825.8L969.4 820.0L975.3 813.5L981.2 817.4Z" opacity="0.44"/>
<path d="M948.7 828.5L947.8 832.3L942.2 834.1L939.7 832.8L938.3 827.0L941.5 824.0L946.0 822.7Z" opacity="0.37"/>
<path d="M962.8 827.7L961.0 831.4L956.6 832.5L953.5 829.7L954.4 823.9L959.3 823.6Z" opacity="0.36"/>
<path d="M984.2 836.0L980.4 834.3L979.2 827.5L983.4 823.8L988.9 826.1L989.1 833.5Z" opacity="0.37"/>
<path d="M991.1 828.5L995.1 832.4L994.6 835.9L992.5 838.8L984.9 836.7L983.3 832.3L985.3 828.4Z" opacity="0.36"/>
<path d="M959.9 830.7L960.0 836.9L956.2 841.1L949.9 837.9L951.2 832.0L954.5 829.4Z" opacity="0.61"/>
<path d="M965.7 837.9L966.9 832.5L973.6 830.5L976.5 832.3L977.7 838.6L972.7 841.5L968.5 840.5Z" opacity="0.54"/>
<path d="M958.2 848.8L955.9 843.8L957.0 838.1L963.6 839.3L965.1 845.6Z" opacity="0.33"/>
<path d="M977.5 847.3L972.2 851.0L968.6 848.7L968.3 844.6L970.8 838.7L976.3 837.3L978.5 841.5Z" opacity="0.37"/>
<path d="M933.5 844.7L933.6 839.9L939.3 837.3L943.1 842.5L940.3 847.4Z" opacity="0.37"/>
<path d="M921.6 846.5L923.6 842.0L931.1 840.7L934.3 844.4L931.9 851.3L925.9 853.1Z" opacity="0.34"/>
<path d="M942.5 844.0L947.1 843.1L949.7 844.7L950.9 850.5L947.2 852.9L941.5 851.5L940.7 847.1Z" opacity="0.41"/>
<path d="M917.4 850.2L925.9 851.4L928.3 858.3L920.9 860.1L916.7 855.1Z" opacity="0.43"/>
<path d="M930.4 850.7L934.8 848.8L940.7 850.7L940.6 856.2L937.1 858.3L931.9 857.6L930.7 854.4Z" opacity="0.43"/>
<path d="M982.6 857.4L981.2 854.3L984.1 850.6L989.1 849.2L992.6 853.6L992.0 856.6L986.3 860.3Z" opacity="0.36"/>
<path d="M997.4 861.5L992.2 856.8L993.5 852.4L999.1 851.2L1001.4 854.9L1001.4 858.3Z" opacity="0.41"/>
<path d="M782.0 582.9L783.1 579.6L787.3 577.6L791.0 580.1L790.9 584.6L786.6 588.8L783.4 587.6Z" opacity="0.41"/>
<path d="M811.0 599.6L807.6 595.1L810.5 590.1L815.5 589.8L818.1 594.6L815.1 598.5Z" opacity="0.41"/>
<path d="M747.8 471.8L752.3 475.2L751.5 481.4L749.0 482.9L743.4 480.3L743.8 474.7Z" opacity="0.33"/>
<path d="M801.6 485.3L799.2 491.9L795.1 491.6L791.8 486.0L794.2 480.0L800.5 481.0Z" opacity="0.42"/>
<path d="M752.6 516.0L756.5 518.2L757.0 523.3L753.7 527.5L748.3 524.1L747.8 517.6Z" opacity="0.39"/>
<path d="M784.2 644.8L780.1 639.8L780.9 632.7L785.3 632.3L789.6 636.4L789.9 642.6Z" opacity="0.33"/>
<path d="M792.1 533.3L785.4 533.5L782.1 530.2L782.1 525.6L786.5 523.3L790.0 524.0L792.5 527.2Z" opacity="0.38"/>
<path d="M765.5 525.0L762.4 518.6L769.8 514.3L774.9 516.8L773.9 523.6Z" opacity="0.35"/>
<path d="M821.8 550.6L828.3 547.6L832.9 551.6L830.3 556.8L824.1 556.9Z" opacity="0.41"/>
<path d="M824.0 526.2L828.0 522.2L833.0 523.5L835.5 528.4L831.6 531.6L826.3 532.5Z" opacity="0.41"/>
<path d="M735.4 484.8L739.8 481.8L743.3 482.2L746.4 485.7L743.9 490.4L740.8 491.0L736.4 489.2Z" opacity="0.33"/>
<path d="M834.8 503.6L837.5 509.4L834.9 513.0L829.2 514.9L826.2 510.9L826.7 505.4Z" opacity="0.40"/>
<path d="M805.0 564.2L800.7 567.4L796.4 565.0L795.8 559.9L799.5 556.4L806.0 558.2Z" opacity="0.38"/>
<path d="M750.6 553.9L749.9 550.0L754.5 545.9L759.2 547.6L759.3 552.9L754.4 557.1Z" opacity="0.35"/>
<path d="M830.8 545.2L827.9 545.2L823.9 539.6L824.3 536.3L828.8 533.2L833.3 534.8L833.2 540.5Z" opacity="0.43"/>
<path d="M762.7 587.5L763.1 594.5L758.2 595.8L754.1 590.9L757.6 586.9Z" opacity="0.42"/>
<path d="M770.9 564.2L774.4 556.0L781.5 559.3L780.2 566.6L774.1 569.0Z" opacity="0.41"/>
<path d="M806.0 645.3L802.3 647.5L799.2 646.0L798.6 639.5L803.1 638.2L806.5 641.6Z" opacity="0.34"/>
<path d="M751.1 498.2L756.1 501.0L755.6 508.7L751.9 510.9L746.7 507.7L745.7 500.5Z" opacity="0.42"/>
<path d="M754.5 513.3L756.1 507.2L763.0 507.4L765.4 512.3L762.2 516.9Z" opacity="0.57"/>
<path d="M787.8 497.2L783.8 500.8L778.9 499.3L778.1 492.8L781.1 489.2L786.5 490.9Z" opacity="0.36"/>
<path d="M753.4 612.2L757.3 606.7L760.7 606.1L765.0 609.5L762.1 615.8L755.4 616.2Z" opacity="0.36"/>
<path d="M800.6 529.9L805.2 526.7L809.2 527.7L810.8 532.3L808.8 536.9L805.2 536.8L801.1 533.9Z" opacity="0.39"/>
<path d="M842.2 516.3L843.2 512.5L848.0 508.5L851.5 511.5L852.5 514.4L849.0 519.3L846.0 519.1Z" opacity="0.39"/>
<path d="M805.0 495.3L808.9 501.1L801.5 505.5L796.8 502.8L799.1 495.9Z" opacity="0.38"/>
<path d="M787.6 612.0L792.6 610.9L795.8 616.1L793.8 620.9L789.4 621.7L785.2 616.0Z" opacity="0.61"/>
<path d="M823.8 654.8L821.0 653.1L820.0 647.1L824.0 643.9L827.8 644.9L828.3 651.3Z" opacity="0.35"/>
<path d="M830.4 613.4L825.5 616.7L819.0 614.3L820.2 607.4L825.4 606.1Z" opacity="0.37"/>
<path d="M779.9 606.8L777.7 611.1L774.1 613.8L768.1 610.9L767.8 605.8L770.3 602.1L775.1 602.8Z" opacity="0.34"/>
<path d="M788.0 629.9L784.3 633.3L778.7 632.2L776.5 628.3L779.2 623.5L784.5 624.7Z" opacity="0.61"/>
<path d="M808.0 543.4L813.6 544.9L811.8 552.1L806.5 554.4L805.0 549.4Z" opacity="0.38"/>
<path d="M819.6 583.3L823.7 581.8L828.9 585.2L828.8 589.4L825.3 591.9L820.2 591.8L817.6 587.8Z" opacity="0.37"/>
<path d="M814.7 573.4L814.4 566.3L821.7 566.4L824.5 574.6L818.0 576.5Z" opacity="0.40"/>
<path d="M805.4 648.2L810.7 647.4L814.4 651.3L811.3 657.5L806.0 660.1L803.0 658.1L801.6 651.0Z" opacity="0.38"/>
<path d="M767.5 633.7L762.1 631.0L762.6 625.1L766.4 622.1L773.3 626.7L772.8 631.7Z" opacity="0.43"/>
<path d="M791.4 476.1L792.4 480.8L787.3 486.2L783.0 483.2L782.3 479.2L786.9 472.8Z" opacity="0.41"/>
<path d="M813.4 508.7L820.9 509.4L823.6 514.6L820.8 517.2L813.5 517.5L810.6 513.2Z" opacity="0.41"/>
<path d="M791.3 514.9L785.7 513.6L784.3 508.9L785.9 505.1L788.8 503.3L794.4 506.6L795.2 510.9Z" opacity="0.36"/>
<path d="M760.0 545.8L755.6 541.6L760.0 536.9L765.0 535.9L768.5 540.7L767.6 546.9Z" opacity="0.40"/>
<path d="M817.3 636.6L816.6 630.7L823.5 627.5L827.2 634.4L823.0 638.4Z" opacity="0.44"/>
<path d="M792.9 625.5L797.7 623.0L801.1 625.0L802.5 628.3L800.7 632.6L796.9 633.1L792.7 631.3Z" opacity="0.58"/>
<path d="M754.1 571.2L758.3 571.0L761.8 574.3L759.8 580.5L758.2 582.6L752.8 580.0L750.3 577.5Z" opacity="0.43"/>
<path d="M797.1 509.3L803.8 509.2L808.2 514.2L803.0 519.2L797.3 517.4Z" opacity="0.44"/>
<path d="M799.4 567.4L803.0 571.2L801.4 576.6L796.0 578.1L793.0 574.0L794.8 566.9Z" opacity="0.40"/>
<path d="M758.6 563.1L762.7 561.0L767.0 562.6L767.6 568.2L762.3 572.4L757.6 568.3Z" opacity="0.36"/>
<path d="M815.5 541.4L812.7 538.1L814.5 532.3L818.8 532.7L822.5 537.9L819.9 541.3Z" opacity="0.41"/>
<path d="M770.7 597.9L767.9 592.4L773.1 589.6L779.9 595.1L777.4 598.9Z" opacity="0.72"/>
<path d="M848.9 530.2L851.6 533.6L849.6 540.7L845.1 542.4L840.4 538.4L842.8 532.1Z" opacity="0.34"/>
<path d="M747.2 565.7L745.7 561.8L749.5 556.5L754.6 559.1L758.2 563.3L752.9 567.9Z" opacity="0.43"/>
<path d="M821.3 628.1L815.1 627.9L812.0 622.0L813.9 618.8L823.1 618.6L825.2 624.1Z" opacity="0.40"/>
<path d="M800.7 555.8L795.7 555.5L791.8 552.0L792.6 545.5L795.7 543.4L802.1 546.0L803.8 552.1Z" opacity="0.57"/>
<path d="M810.2 491.5L803.5 490.6L800.9 486.0L808.8 479.7L812.3 482.5Z" opacity="0.35"/>
<path d="M773.7 534.8L770.3 529.5L772.3 525.2L777.6 526.1L781.0 531.1L778.2 534.9Z" opacity="0.39"/>
<path d="M808.2 581.5L810.0 578.2L816.0 578.3L819.1 583.4L818.1 587.7L813.2 589.2L809.2 587.0Z" opacity="0.38"/>
<path d="M834.5 580.1L829.2 583.2L822.1 577.7L826.5 572.9L833.6 573.2Z" opacity="0.40"/>
<path d="M827.9 590.7L833.0 590.6L835.2 594.7L834.2 600.2L828.5 602.6L824.8 598.2Z" opacity="0.38"/>
<path d="M734.4 502.3L730.8 499.0L736.9 492.3L742.8 495.9L740.6 501.9Z" opacity="0.39"/>
<path d="M765.0 579.3L766.4 575.4L772.7 576.6L775.4 581.6L774.1 585.7L769.8 587.2L765.3 585.0Z" opacity="0.33"/>
<path d="M780.0 541.9L784.1 539.8L789.3 546.7L787.6 551.0L781.6 551.1L778.1 546.7Z" opacity="0.43"/>
<path d="M767.9 547.5L774.0 549.2L775.1 553.6L769.8 558.1L765.5 556.6L762.6 551.4Z" opacity="0.40"/>
<path d="M800.9 578.1L804.6 583.0L802.5 589.9L797.3 590.2L792.6 586.3L794.4 580.5Z" opacity="0.57"/>
<path d="M772.0 505.4L774.1 502.9L780.0 503.1L781.8 507.9L779.4 512.4L774.5 512.2Z" opacity="0.38"/>
<path d="M823.8 499.0L817.2 498.5L814.9 494.9L816.6 490.6L820.5 489.2L826.0 489.5L827.0 494.0Z" opacity="0.35"/>
<path d="M744.1 517.3L740.6 523.3L737.0 522.7L734.9 519.9L737.0 514.8L740.8 514.0Z" opacity="0.40"/>
<path d="M799.7 605.7L804.7 603.9L808.2 607.8L807.1 614.1L799.7 614.7L798.0 610.3Z" opacity="0.40"/>
<path d="M820.2 499.5L819.8 506.8L815.8 508.0L809.4 502.4L811.4 498.3Z" opacity="0.44"/>
<path d="M812.3 636.5L818.7 637.7L820.9 646.4L816.7 649.9L811.1 647.7L808.6 641.5Z" opacity="0.38"/>
<path d="M763.7 533.4L761.7 537.1L757.5 539.2L752.1 536.0L752.3 532.1L757.1 527.3L760.5 528.1Z" opacity="0.34"/>
<path d="M840.6 633.4L834.2 633.1L830.5 629.1L830.4 623.1L839.9 621.8L841.9 625.9Z" opacity="0.33"/>
<path d="M823.0 559.2L816.0 561.7L813.8 559.6L811.4 555.8L815.2 550.3L819.3 551.1L823.5 554.2Z" opacity="0.39"/>
<path d="M769.0 474.2L772.4 474.3L776.6 478.7L774.5 483.9L769.6 485.9L767.1 484.5L764.4 480.5Z" opacity="0.41"/>
<path d="M826.1 637.3L831.7 631.6L837.1 635.2L837.2 641.5L830.0 642.5Z" opacity="0.34"/>
<path d="M799.2 472.6L804.5 470.6L808.9 473.6L810.1 476.9L806.7 480.2L801.1 480.2L797.7 476.2Z" opacity="0.35"/>
<path d="M789.9 564.0L782.1 564.8L781.2 558.2L786.8 553.1L792.7 557.0Z" opacity="0.43"/>
<path d="M753.1 539.9L752.1 547.2L746.6 547.1L743.3 541.7L747.5 537.2Z" opacity="0.41"/>
<path d="M793.1 524.9L793.6 520.4L798.4 519.3L802.9 523.0L801.6 527.0L797.7 528.7Z" opacity="0.41"/>
<path d="M727.0 477.1L731.6 475.9L736.2 483.0L732.8 485.4L725.5 483.9Z" opacity="0.43"/>
<path d="M796.8 544.9L792.9 543.8L792.1 536.6L799.1 535.1L802.1 540.8Z" opacity="0.34"/>
<path d="M858.8 526.2L858.9 532.9L853.2 534.4L849.8 530.1L850.7 525.4L853.6 524.4Z" opacity="0.37"/>
<path d="M811.9 610.3L807.7 605.2L809.4 599.3L814.5 599.4L818.3 602.5L817.4 610.0Z" opacity="0.53"/>
<path d="M798.8 594.5L801.2 590.9L807.1 593.0L808.3 600.5L803.6 602.9L799.1 600.8Z" opacity="0.41"/>
<path d="M837.5 611.6L839.3 617.8L834.2 620.8L829.5 617.7L829.2 614.2L833.8 609.5Z" opacity="0.40"/>
<path d="M779.7 545.3L774.5 548.3L771.6 547.8L767.7 544.3L768.5 539.2L775.5 537.8L778.9 540.1Z" opacity="0.37"/>
<path d="M835.2 502.9L829.1 501.4L827.8 495.6L834.6 493.2L838.0 498.7Z" opacity="0.38"/>
<path d="M765.4 493.1L767.7 490.2L775.9 490.9L778.0 495.3L775.4 498.6L771.5 500.8L765.5 497.5Z" opacity="0.35"/>
<path d="M841.4 586.0L842.1 590.2L834.7 592.9L832.1 587.6L834.6 584.2Z" opacity="0.37"/>
<path d="M802.4 668.5L798.8 664.2L801.6 658.3L808.8 662.3L808.4 667.9Z" opacity="0.41"/>
<path d="M771.1 644.4L767.0 640.5L768.6 635.1L775.1 633.9L778.3 637.1L778.7 641.9Z" opacity="0.42"/>
<path d="M802.5 568.4L807.1 563.4L814.0 567.1L812.0 574.6L805.8 576.5Z" opacity="0.42"/>
<path d="M834.3 523.9L835.6 516.9L841.9 515.9L846.0 521.8L842.0 526.1Z" opacity="0.35"/>
<path d="M770.5 619.4L774.9 614.4L779.6 615.2L779.0 622.8L775.1 624.4Z" opacity="0.42"/>
<path d="M787.9 570.3L786.4 577.0L779.3 577.9L778.4 571.6L784.3 567.6Z" opacity="0.35"/>
<path d="M812.4 527.6L813.8 522.2L818.6 520.6L821.6 522.4L821.7 527.4L818.1 530.3L814.4 530.2Z" opacity="0.34"/>
<path d="M814.7 635.7L811.6 638.1L806.9 639.1L802.6 636.0L803.8 630.0L809.5 627.5L815.0 630.2Z" opacity="0.35"/>
<path d="M786.5 649.8L787.7 644.4L793.0 640.0L798.0 646.9L792.6 652.2Z" opacity="0.44"/>
<path d="M835.1 538.9L838.7 537.6L843.0 542.6L842.5 548.5L837.0 549.9L831.3 544.0Z" opacity="0.37"/>
<path d="M758.3 601.8L759.5 598.2L767.9 597.4L769.9 602.1L768.3 605.6L762.7 606.1Z" opacity="0.42"/>
<path d="M826.1 558.7L833.2 564.4L829.2 568.2L823.5 567.7L821.1 561.2Z" opacity="0.35"/>
<path d="M744.2 509.5L737.6 514.4L732.2 510.1L736.1 503.8L743.4 503.8Z" opacity="0.39"/>
<path d="M1010.3 573.5L1016.0 567.2L1021.3 569.7L1021.3 576.5L1015.7 579.4Z" opacity="0.54"/>
<path d="M1008.0 586.7L1013.7 586.5L1016.1 590.4L1017.3 594.5L1012.2 597.6L1006.8 594.2L1005.8 589.7Z" opacity="0.35"/>
<path d="M1021.4 610.3L1018.0 611.1L1014.3 607.9L1015.9 601.1L1021.5 600.7L1024.2 603.0Z" opacity="0.61"/>
<path d="M994.3 608.2L994.3 603.6L997.1 598.3L1004.2 600.0L1006.9 605.0L1000.4 609.6Z" opacity="0.39"/>
<path d="M984.4 589.6L981.2 585.3L980.7 578.1L989.9 578.1L991.5 585.1Z" opacity="0.34"/>
<path d="M1000.9 596.9L995.7 598.4L990.3 594.0L991.9 589.3L996.0 588.6L1001.5 591.8Z" opacity="0.42"/>
<path d="M1008.8 581.5L1002.5 586.8L998.9 582.9L1000.5 576.5L1007.0 576.1Z" opacity="0.59"/>
<path d="M1011.4 561.8L1014.6 563.5L1013.0 569.1L1010.1 570.6L1004.3 568.8L1004.1 564.2L1007.1 560.9Z" opacity="0.39"/>
<path d="M989.7 594.6L990.4 599.5L985.7 602.4L981.5 599.5L979.7 595.4L985.3 592.4Z" opacity="0.39"/>
<path d="M1012.8 584.0L1015.1 580.9L1019.3 579.7L1024.4 583.2L1023.4 587.9L1017.2 588.5Z" opacity="0.34"/>
<path d="M1037.6 601.8L1034.5 608.6L1028.1 608.2L1025.3 604.9L1027.9 598.2L1034.4 599.1Z" opacity="0.53"/>
<path d="M1216.2 604.4L1217.9 596.1L1224.8 595.4L1227.4 601.5L1222.1 606.7Z" opacity="0.41"/>
<path d="M1063.0 567.9L1058.9 563.3L1059.5 557.7L1065.2 556.5L1068.9 563.0Z" opacity="0.43"/>
<path d="M1055.0 499.3L1048.2 495.8L1049.4 490.5L1051.6 488.8L1055.5 487.5L1058.6 492.6L1058.0 498.2Z" opacity="0.39"/>
<path d="M1074.0 524.7L1078.6 530.4L1074.5 535.3L1070.3 534.2L1066.0 528.7L1070.5 524.8Z" opacity="0.62"/>
<path d="M1166.0 627.6L1159.8 626.8L1157.2 623.6L1160.3 618.9L1166.3 618.8L1169.3 622.8Z" opacity="0.37"/>
<path d="M1049.1 595.3L1043.7 593.0L1043.0 587.2L1046.5 585.4L1052.0 584.6L1054.4 588.6L1053.6 592.7Z" opacity="0.39"/>
<path d="M1125.3 634.0L1128.0 638.6L1124.5 645.0L1118.2 640.3L1120.6 634.3Z" opacity="0.39"/>
<path d="M1074.9 504.5L1079.2 501.6L1084.1 502.3L1084.1 509.3L1080.8 512.3L1075.5 510.2Z" opacity="0.36"/>
<path d="M1202.1 594.8L1198.3 599.6L1191.7 600.5L1188.9 596.6L1192.8 589.8L1197.1 589.8Z" opacity="0.34"/>
<path d="M1093.0 529.4L1098.1 532.7L1099.5 536.1L1094.2 541.5L1089.6 537.7L1088.2 534.0Z" opacity="0.43"/>
<path d="M1092.6 575.3L1090.6 567.4L1096.7 564.9L1102.5 569.9L1099.1 574.2Z" opacity="0.36"/>
<path d="M1143.8 620.6L1146.8 618.1L1152.6 619.6L1154.4 625.1L1150.3 627.5L1145.3 625.4Z" opacity="0.41"/>
<path d="M1196.7 609.4L1195.1 605.5L1197.1 600.4L1202.1 599.8L1205.4 602.2L1205.8 607.5L1202.3 610.7Z" opacity="0.39"/>
<path d="M1171.4 611.7L1176.5 610.2L1181.4 611.6L1181.0 613.9L1178.1 618.7L1173.7 619.4L1171.1 616.6Z" opacity="0.37"/>
<path d="M1033.9 561.0L1027.1 563.2L1024.4 557.4L1026.5 553.4L1032.9 556.1Z" opacity="0.43"/>
<path d="M1043.2 544.5L1043.6 549.8L1041.2 552.3L1034.4 551.4L1034.6 547.6L1038.3 542.5Z" opacity="0.40"/>
<path d="M1052.6 514.2L1046.0 518.0L1042.9 514.4L1043.0 507.9L1046.9 506.6L1052.9 510.8Z" opacity="0.35"/>
<path d="M1138.8 637.6L1136.2 642.1L1128.7 642.1L1127.4 638.5L1131.5 634.0L1136.3 634.4Z" opacity="0.39"/>
<path d="M1196.8 622.4L1194.4 628.9L1188.1 627.8L1186.9 621.8L1192.1 618.4Z" opacity="0.61"/>
<path d="M1113.6 640.0L1116.3 644.2L1116.2 650.6L1112.2 652.4L1106.8 647.8L1105.0 642.8L1108.0 639.4Z" opacity="0.37"/>
<path d="M1058.9 604.1L1061.5 611.3L1058.1 613.4L1051.5 613.7L1049.6 607.2L1053.9 603.3Z" opacity="0.39"/>
<path d="M1046.1 558.0L1046.9 566.6L1042.2 568.8L1035.7 566.4L1035.9 561.1L1040.0 557.4Z" opacity="0.35"/>
<path d="M1063.8 587.5L1063.1 580.6L1068.1 578.7L1071.4 583.3L1067.9 589.0Z" opacity="0.57"/>
<path d="M1069.8 522.1L1065.4 520.8L1062.6 514.6L1066.5 510.6L1072.0 512.6L1073.9 515.9Z" opacity="0.41"/>
<path d="M1069.6 633.8L1066.4 628.8L1069.4 624.7L1074.3 623.6L1078.5 629.1L1074.6 632.7Z" opacity="0.42"/>
<path d="M1071.2 593.9L1068.5 600.3L1063.3 599.2L1060.5 594.4L1064.0 590.9L1069.2 589.6Z" opacity="0.39"/>
<path d="M1078.8 612.0L1082.8 610.3L1087.4 613.2L1088.4 617.3L1084.4 622.4L1078.6 620.6L1075.5 618.4Z" opacity="0.42"/>
<path d="M1144.3 661.2L1139.8 663.2L1135.0 661.4L1134.7 655.2L1136.1 651.8L1141.6 653.5L1143.8 656.8Z" opacity="0.36"/>
<path d="M1164.3 663.3L1162.3 667.5L1158.2 668.4L1152.3 665.0L1154.3 659.8L1158.5 657.9L1162.2 658.3Z" opacity="0.41"/>
<path d="M1069.1 553.0L1067.4 549.9L1068.3 544.6L1073.4 542.8L1077.1 542.6L1078.0 547.6L1075.4 552.9Z" opacity="0.41"/>
<path d="M1091.6 522.0L1089.0 528.2L1083.7 527.5L1080.7 521.5L1084.0 517.6L1088.9 518.5Z" opacity="0.34"/>
<path d="M1090.9 609.4L1086.6 608.1L1085.2 601.8L1091.1 597.1L1095.5 601.7L1094.7 609.0Z" opacity="0.37"/>
<path d="M1146.1 656.1L1147.4 649.6L1154.2 648.6L1157.3 653.9L1155.1 658.1L1149.4 658.9Z" opacity="0.36"/>
<path d="M1185.5 605.1L1184.4 609.7L1179.0 610.6L1174.9 608.1L1175.2 602.7L1179.5 599.2L1184.3 601.0Z" opacity="0.40"/>
<path d="M1165.2 604.5L1171.8 606.8L1168.7 613.5L1161.5 613.9L1159.8 608.8Z" opacity="0.41"/>
<path d="M1105.2 627.8L1104.4 633.7L1097.3 632.4L1096.2 628.2L1101.6 624.3Z" opacity="0.44"/>
<path d="M1138.6 616.3L1137.1 609.5L1144.3 606.5L1149.5 614.2L1143.3 619.7Z" opacity="0.34"/>
<path d="M1172.7 634.5L1177.2 628.4L1182.0 630.4L1183.5 635.4L1176.0 637.6Z" opacity="0.40"/>
<path d="M1052.3 524.0L1054.3 517.4L1059.2 517.0L1063.0 519.5L1062.1 525.5L1056.6 526.9Z" opacity="0.61"/>
<path d="M1034.6 612.3L1038.6 610.3L1044.1 615.4L1042.8 620.2L1036.7 620.7L1034.1 618.1Z" opacity="0.54"/>
<path d="M1112.9 617.3L1113.4 623.5L1110.9 626.4L1106.7 626.4L1104.6 623.6L1106.2 617.6L1109.5 617.4Z" opacity="0.38"/>
<path d="M1174.7 649.0L1175.3 654.7L1168.2 657.8L1161.3 653.1L1165.5 645.9Z" opacity="0.38"/>
<path d="M1087.7 578.8L1080.4 577.0L1079.2 572.6L1083.3 566.7L1086.9 566.2L1091.9 570.6L1091.9 575.7Z" opacity="0.33"/>
<path d="M1093.2 600.2L1093.2 593.0L1100.4 589.9L1104.0 596.9L1101.3 601.1Z" opacity="0.44"/>
<path d="M1135.1 607.6L1136.9 613.2L1134.5 619.0L1131.1 617.8L1125.5 614.1L1127.7 607.8Z" opacity="0.39"/>
<path d="M1100.0 562.8L1092.5 562.2L1092.2 557.6L1096.7 553.8L1102.1 555.1L1102.4 559.8Z" opacity="0.36"/>
<path d="M1201.9 615.0L1207.5 618.2L1209.5 621.1L1208.6 625.9L1203.2 627.8L1197.9 625.5L1198.9 619.0Z" opacity="0.40"/>
<path d="M1110.9 607.0L1104.8 609.0L1100.6 603.1L1102.3 598.6L1107.4 596.7L1111.7 599.6Z" opacity="0.44"/>
<path d="M1038.3 602.8L1042.2 598.2L1048.5 598.8L1049.4 604.0L1047.5 606.7L1040.7 607.1Z" opacity="0.59"/>
<path d="M1054.4 582.8L1050.2 577.3L1051.4 573.1L1060.6 571.6L1064.2 575.5L1060.4 581.0Z" opacity="0.40"/>
<path d="M1075.8 502.8L1070.0 504.8L1065.6 501.4L1067.2 495.5L1072.2 494.7L1075.2 496.8Z" opacity="0.42"/>
<path d="M1168.3 595.5L1165.9 591.5L1169.5 586.7L1174.3 587.9L1176.3 591.8L1175.4 596.6L1171.1 597.7Z" opacity="0.43"/>
<path d="M1100.5 606.7L1105.8 609.2L1105.7 616.0L1100.4 617.5L1097.0 613.8Z" opacity="0.41"/>
<path d="M1120.2 609.1L1116.7 614.7L1111.6 614.3L1111.0 606.0L1115.3 604.6Z" opacity="0.43"/>
<path d="M1185.3 608.8L1190.8 611.3L1193.7 618.0L1189.4 621.4L1184.3 618.1L1183.5 613.1Z" opacity="0.56"/>
<path d="M1065.4 543.4L1064.1 550.2L1059.6 552.5L1055.9 550.9L1055.7 546.0L1059.5 542.6Z" opacity="0.44"/>
<path d="M1087.9 555.5L1080.2 555.0L1077.3 550.7L1080.0 545.5L1086.1 544.5L1088.8 548.6Z" opacity="0.36"/>
<path d="M1169.1 635.8L1164.9 639.1L1158.0 637.5L1157.5 633.0L1162.3 629.5L1168.0 631.6Z" opacity="0.38"/>
<path d="M1088.2 592.1L1081.5 594.3L1078.7 590.4L1082.6 585.1L1086.9 586.1Z" opacity="0.33"/>
<path d="M1063.0 512.8L1058.1 511.9L1056.2 507.2L1059.9 502.4L1065.7 503.3L1067.1 509.0Z" opacity="0.55"/>
<path d="M1094.6 639.6L1095.9 636.7L1101.0 635.3L1106.6 639.3L1104.7 645.2L1099.2 645.0Z" opacity="0.43"/>
<path d="M1127.7 645.3L1129.7 649.2L1128.0 653.0L1122.2 654.5L1118.6 650.5L1118.6 645.3L1121.5 643.8Z" opacity="0.38"/>
<path d="M1048.0 531.7L1042.1 526.8L1042.7 521.6L1049.9 521.1L1053.1 525.2L1052.6 530.1Z" opacity="0.38"/>
<path d="M1092.1 633.9L1089.3 638.2L1085.2 638.6L1081.3 634.1L1086.3 630.2L1089.5 630.6Z" opacity="0.44"/>
<path d="M1123.8 619.6L1126.1 625.2L1120.2 630.6L1115.3 629.3L1112.7 625.0L1117.8 619.0Z" opacity="0.39"/>
<path d="M1109.8 554.4L1114.7 553.7L1117.6 560.3L1116.2 563.9L1108.3 563.8L1106.0 560.1Z" opacity="0.33"/>
<path d="M1070.2 569.5L1073.9 574.1L1071.2 577.7L1065.6 578.0L1063.4 575.1L1064.2 569.5Z" opacity="0.38"/>
<path d="M1054.8 624.0L1050.3 624.4L1046.7 621.7L1048.1 616.3L1054.0 614.8L1056.9 616.9Z" opacity="0.37"/>
<path d="M1204.5 593.1L1210.4 590.8L1213.3 594.1L1213.6 600.9L1207.8 602.2L1203.4 597.6Z" opacity="0.42"/>
<path d="M1058.2 551.4L1056.4 557.9L1054.2 560.1L1047.5 558.5L1047.3 553.2L1049.3 549.6L1054.4 549.1Z" opacity="0.42"/>
<path d="M1057.6 635.4L1051.3 635.5L1048.6 632.0L1052.8 626.4L1057.1 626.1L1060.5 631.9Z" opacity="0.36"/>
<path d="M1108.8 585.2L1105.6 591.5L1097.8 590.3L1096.0 585.2L1101.2 580.9Z" opacity="0.42"/>
<path d="M1099.6 547.8L1097.3 551.9L1093.6 551.7L1090.0 545.7L1092.8 542.5L1095.7 542.8Z" opacity="0.35"/>
<path d="M1072.0 614.3L1068.6 618.2L1062.1 617.1L1060.5 610.8L1065.0 607.2L1071.9 608.2Z" opacity="0.38"/>
<path d="M1096.5 626.4L1089.2 625.0L1087.0 618.4L1089.9 615.5L1095.1 614.4L1098.9 619.7Z" opacity="0.40"/>
<path d="M1064.5 526.0L1067.2 529.9L1065.7 536.2L1059.6 537.4L1055.6 534.8L1056.6 527.9Z" opacity="0.38"/>
<path d="M1083.6 532.4L1088.7 539.9L1083.6 543.2L1076.9 540.6L1078.1 533.8Z" opacity="0.34"/>
<path d="M1182.9 642.6L1182.4 648.4L1176.6 648.9L1172.4 645.6L1174.4 640.2L1179.1 638.8Z" opacity="0.34"/>
<path d="M1050.3 534.3L1051.9 541.7L1048.2 544.0L1043.8 542.3L1040.9 538.2L1045.2 533.2Z" opacity="0.42"/>
<path d="M1029.5 592.1L1030.3 596.6L1024.2 598.7L1019.2 595.8L1019.3 590.1L1022.7 587.4Z" opacity="0.75"/>
<path d="M1110.6 638.1L1108.0 636.6L1106.4 631.1L1111.6 627.8L1115.6 630.4L1115.0 634.5Z" opacity="0.44"/>
<path d="M1144.3 647.8L1139.3 653.3L1133.5 648.2L1136.2 642.3L1142.4 643.4Z" opacity="0.43"/>
<path d="M1034.8 571.7L1031.2 576.5L1025.1 572.9L1026.5 568.1L1031.3 566.8Z" opacity="0.40"/>
<path d="M1081.2 606.4L1077.7 603.9L1075.4 597.8L1079.8 594.9L1083.7 596.1L1084.7 602.1Z" opacity="0.41"/>
<path d="M1156.2 650.2L1153.9 643.8L1159.5 640.5L1164.9 643.0L1161.9 649.6Z" opacity="0.41"/>
<path d="M1040.3 492.7L1047.0 494.8L1046.1 500.6L1040.5 503.1L1036.0 496.3Z" opacity="0.33"/>
<path d="M1029.0 594.6L1029.0 587.2L1037.0 584.2L1038.8 588.6L1034.2 596.9Z" opacity="0.37"/>
<path d="M1181.3 595.7L1178.2 593.3L1180.9 586.2L1186.7 584.9L1189.3 590.5L1187.6 595.5Z" opacity="0.35"/>
<path d="M1173.1 587.2L1168.8 586.7L1164.7 582.7L1165.1 577.5L1170.2 576.7L1174.8 579.6Z" opacity="0.41"/>
<path d="M1157.7 608.3L1161.5 613.5L1158.7 617.8L1154.0 619.0L1150.4 616.3L1151.1 610.6L1152.5 609.1Z" opacity="0.40"/>
<path d="M1102.5 568.1L1108.1 564.3L1114.6 570.2L1110.4 575.9L1103.2 575.1Z" opacity="0.39"/>
<path d="M1207.5 620.0L1206.2 614.3L1212.6 609.2L1218.1 612.3L1219.5 619.0L1214.9 622.6Z" opacity="0.43"/>
<path d="M1091.3 576.7L1096.5 580.5L1095.5 585.5L1092.3 587.5L1087.2 584.9L1086.8 579.5Z" opacity="0.43"/>
<path d="M1115.3 657.4L1110.1 662.4L1105.8 658.9L1106.6 651.5L1110.9 650.6Z" opacity="0.35"/>
<path d="M1060.4 594.2L1060.7 601.7L1054.8 603.9L1050.6 600.0L1056.4 592.0Z" opacity="0.53"/>
<path d="M1061.5 618.7L1065.8 619.4L1067.7 626.0L1061.5 629.4L1057.9 624.2Z" opacity="0.34"/>
<path d="M1062.8 495.6L1059.8 490.4L1063.0 487.2L1066.9 487.2L1069.1 493.3L1067.3 495.7Z" opacity="0.34"/>
<path d="M1082.9 558.9L1089.2 556.3L1092.5 558.1L1092.0 566.2L1086.5 568.8L1082.5 564.1Z" opacity="0.34"/>
<path d="M1111.6 545.7L1111.3 550.9L1109.5 554.5L1102.7 554.5L1100.8 549.8L1102.5 544.9L1106.2 543.6Z" opacity="0.33"/>
<path d="M1076.1 575.2L1080.3 574.9L1083.7 577.1L1081.5 582.8L1077.5 585.7L1073.3 583.2L1073.3 579.7Z" opacity="0.34"/>
<path d="M733.2 495.7L728.4 496.3L725.5 493.5L726.4 488.5L730.7 484.8L735.0 486.2L736.3 490.0Z" opacity="0.75"/>
<path d="M1239.8 527.8L1235.1 526.2L1235.0 522.4L1238.9 520.0L1243.0 522.3Z" opacity="0.13"/>
</g>
<rect x="727.8" y="475.3" width="576.5" height="383.6" filter="url(#grain)"/>
<g filter="url(#tblur)"><rect x="753.5" y="836.8" width="132.3" height="3.1" fill="#f4f4f4"/>
<text x="753.6" y="831.3" font-family="Liberation Sans, sans-serif" font-size="27" fill="#ececec" textLength="46.5" lengthAdjust="spacingAndGlyphs">200</text><text x="816.6" y="831.3" font-family="Liberation Sans, sans-serif" font-size="27" fill="#ececec" textLength="30.5" lengthAdjust="spacingAndGlyphs">nm</text></g>
</g>
</svg>
</body></html>
